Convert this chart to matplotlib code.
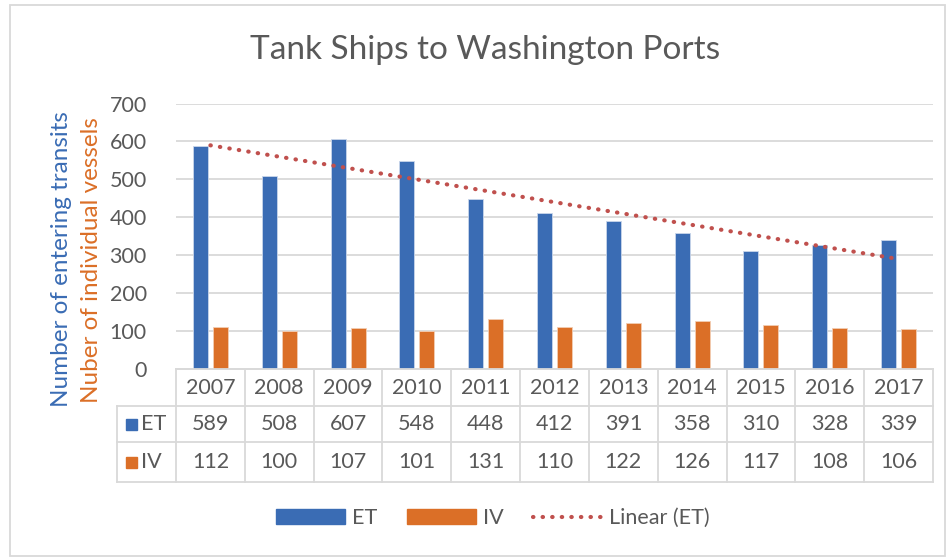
import matplotlib
matplotlib.use("Agg")
import matplotlib.pyplot as plt
import numpy as np
from matplotlib.transforms import blended_transform_factory
from matplotlib.patches import Rectangle, Patch
from matplotlib.lines import Line2D

years = ["2007", "2008", "2009", "2010", "2011", "2012", "2013", "2014", "2015", "2016", "2017"]
et = [589, 508, 607, 548, 448, 412, 391, 358, 310, 328, 339]
iv = [112, 100, 107, 101, 131, 110, 122, 126, 117, 108, 106]
series_names = ["ET", "IV"]
yticks = [0, 100, 200, 300, 400, 500, 600, 700]

BLUE = "#3A6CB4"
ORANGE = "#DB6F27"
RED = "#C0504D"
TXT = "#595959"
GRID = "#D9D9D9"
FS = 15.5

plt.rcParams['font.family'] = ['Lato', 'DejaVu Sans']

W, H = 950, 557
fig = plt.figure(figsize=(9.5, 5.57), dpi=100)

def fx(px):
    return px / W

def fy(py):
    return 1 - py / H

# outer border
fig.patches.append(Rectangle((fx(10), fy(556)), fx(945) - fx(10), fy(5) - fy(556),
                             transform=fig.transFigure, fill=False,
                             edgecolor=GRID, linewidth=1.3))

L, R, T, B = 176, 933, 103.5, 369
ax = fig.add_axes([fx(L), fy(B), fx(R) - fx(L), fy(T) - fy(B)])
n = len(years)
x = np.arange(n)
bw = 0.218
off = 0.145
ax.bar(x - off, et, width=bw, color=BLUE, edgecolor="#C9D6EA", linewidth=0.6, zorder=3)
ax.bar(x + off, iv, width=bw, color=ORANGE, edgecolor="#F3CDB3", linewidth=0.6, zorder=3)

# linear trendline
coef = np.polyfit(x, et, 1)
ax.plot(x, np.polyval(coef, x), linestyle=(0, (0.1, 2.2)), dash_capstyle="round",
        color=RED, linewidth=3.0, zorder=4)

ax.set_xlim(-0.5, n - 0.5)
ax.set_ylim(0, 700)
ax.set_yticks(yticks)
ax.set_yticklabels([str(t) for t in yticks], fontsize=FS, color=TXT)
ax.tick_params(axis="y", length=0, pad=21)
ax.set_xticks([])
ax.grid(axis="y", color=GRID, linewidth=1.3, zorder=0)
for s in ["top", "right", "left"]:
    ax.spines[s].set_visible(False)
ax.spines["bottom"].set_color(GRID)
ax.spines["bottom"].set_linewidth(1.3)
ax.spines["bottom"].set_zorder(5)

# data table
tr = blended_transform_factory(ax.transData, fig.transFigure)
row_y = [369, 406, 442, 482]
xl = -0.5 - (L - 117) / ((R - L) / n)
lw = 1.3
for i, yy in enumerate(row_y):
    x0 = -0.5 if i == 0 else xl
    ax.add_line(Line2D([x0, n - 0.5], [fy(yy), fy(yy)], transform=tr, color=GRID,
                       linewidth=lw, clip_on=False))
for k in range(n + 1):
    xv = k - 0.5
    ax.add_line(Line2D([xv, xv], [fy(369), fy(482)], transform=tr, color=GRID,
                       linewidth=lw, clip_on=False))
ax.add_line(Line2D([xl, xl], [fy(406), fy(482)], transform=tr, color=GRID,
                   linewidth=lw, clip_on=False))

for i in range(n):
    ax.text(i, fy(388), years[i], transform=tr, ha="center", va="center",
            fontsize=FS, color=TXT, clip_on=False)
    ax.text(i, fy(424), str(et[i]), transform=tr, ha="center", va="center",
            fontsize=FS, color=TXT, clip_on=False)
    ax.text(i, fy(462), str(iv[i]), transform=tr, ha="center", va="center",
            fontsize=FS, color=TXT, clip_on=False)

for yy, name, col in [(424, series_names[0], BLUE), (462, series_names[1], ORANGE)]:
    fig.patches.append(Rectangle((fx(126), fy(yy + 6)), fx(11), 11 / H,
                                 transform=fig.transFigure, color=col))
    fig.text(fx(141), fy(yy), name, ha="left", va="center", fontsize=FS, color=TXT)

# axis labels
fig.text(fx(62), fy(259), "Number of entering transits", rotation=90, ha="center",
         va="center", fontsize=17.5, color=BLUE)
fig.text(fx(92), fy(260), "Nuber of individual vessels", rotation=90, ha="center",
         va="center", fontsize=17.5, color=ORANGE)

# title
fig.text(fx(485), fy(50), "Tank Ships to Washington Ports", ha="center", va="center",
         fontsize=24, color=TXT)

# legend
handles = [Patch(facecolor=BLUE, edgecolor=BLUE), Patch(facecolor=ORANGE, edgecolor=ORANGE),
           Line2D([0], [0], linestyle=(0, (0.1, 2.2)), dash_capstyle="round", color=RED, linewidth=3.0)]
leg = fig.legend(handles, ["ET", "IV", "Linear (ET)"], loc="center",
                 bbox_to_anchor=(fx(493), fy(518)), ncol=3, frameon=False,
                 fontsize=FS, handlelength=3.2, handleheight=0.65,
                 handletextpad=0.35, columnspacing=1.35, labelcolor=TXT)

fig.savefig("out.png", dpi=100)
